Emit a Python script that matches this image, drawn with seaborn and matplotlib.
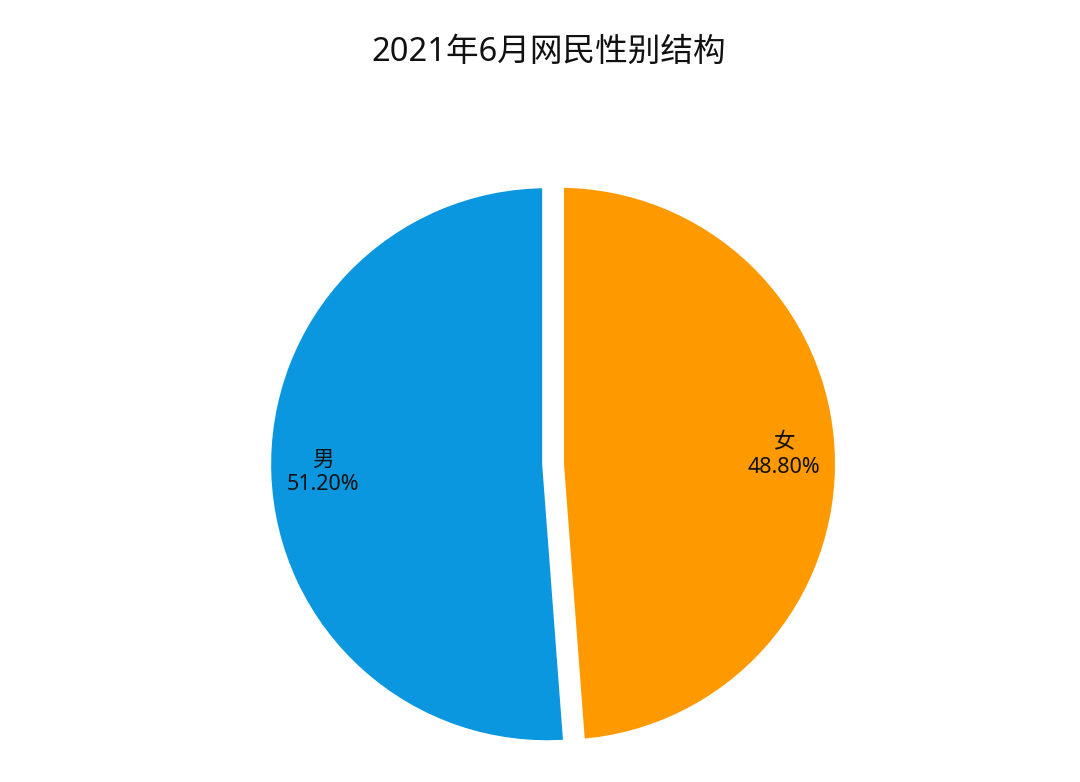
import matplotlib.pyplot as plt
import seaborn as sns

genders = ['男', '女']
shares = [51.20, 48.80]
colors = ['#0b97df', '#fe9a00']

sns.set_theme(style='white')
plt.rcParams['font.family'] = ['Noto Sans', 'Noto Sans CJK SC', 'DejaVu Sans']

fig = plt.figure(figsize=(10.8, 7.82), dpi=100)
ax = fig.add_axes([0.2519, 0.0473, 0.5204, 0.7187])

# female slice first, starting at 12 o'clock going clockwise
order = [1, 0]
labels = [f'{genders[i]}\n{shares[i]:.2f}%' for i in order]
wedges, texts = ax.pie([shares[i] for i in order], labels=labels,
                       colors=[colors[i] for i in order],
                       startangle=90, counterclock=False, radius=1,
                       explode=[0.021, 0.021], labeldistance=0.8,
                       wedgeprops=dict(edgecolor='white', linewidth=7.2),
                       textprops=dict(ha='center', va='center', fontsize=15.5,
                                      color='#111111', linespacing=1.2))
ax.set_xlim(-1, 1)
ax.set_ylim(-1, 1)
ax.set_aspect('equal')
ax.axis('off')
for w in wedges:
    w.set_clip_on(False)

fig.text(0.508, 1 - 52 / 782, '2021年6月网民性别结构', ha='center', va='center',
         fontsize=23.5, color='#111111')

fig.savefig('out.png', dpi=100, facecolor='white')
